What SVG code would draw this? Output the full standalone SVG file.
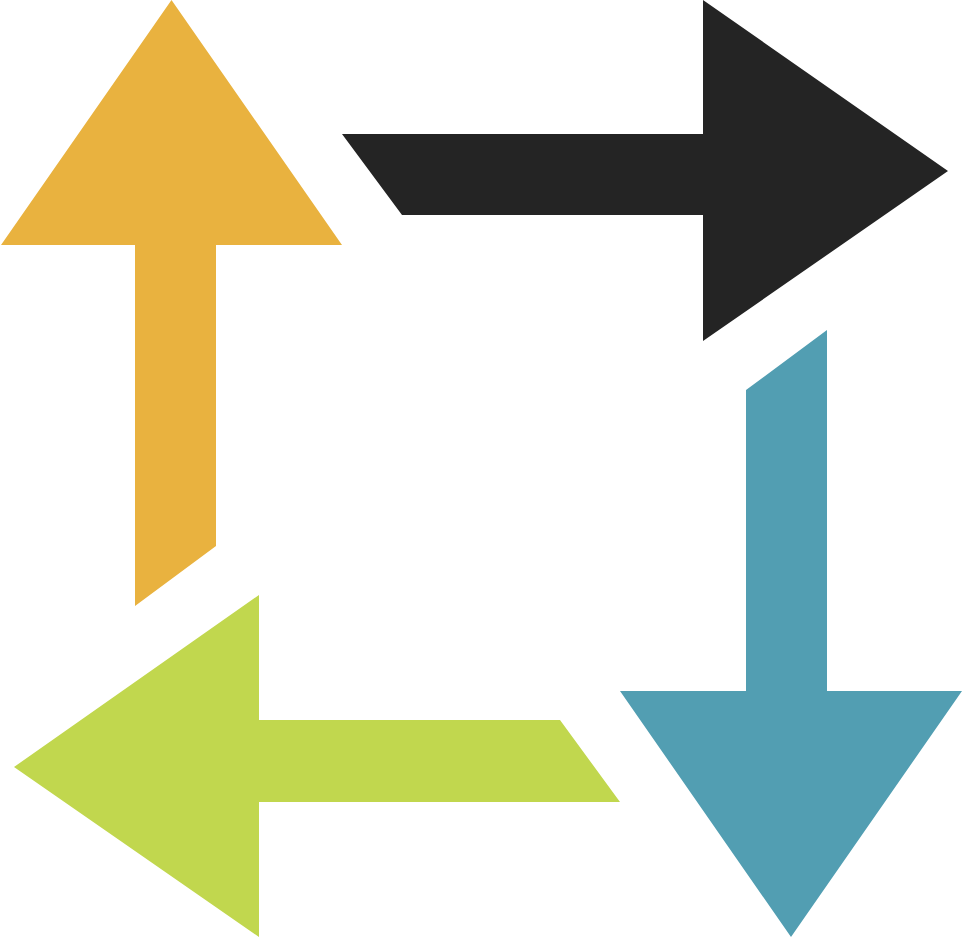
<svg xmlns="http://www.w3.org/2000/svg" width="962" height="937" viewBox="0 0 962 937">
<style>
.up{fill:#E9B23F}
.right{fill:#242424}
.down{fill:#529EB2}
.left{fill:#C1D74E}
</style>
<rect width="962" height="937" fill="#ffffff"/>
<g id="arrow-up"><polygon class="up" points="171.5,0 342,245 216,245 216,546 135,606 135,245 1,245"/></g>
<g id="arrow-right"><polygon class="right" points="342,134 703,134 703,0 948,171 703,341 703,215 402,215"/></g>
<g id="arrow-down"><polygon class="down" points="827,330 827,691 962,691 791,937 620,691 746,691 746,390"/></g>
<g id="arrow-left"><polygon class="left" points="620,802 259,802 259,937 14,767 259,595 259,720 560,720"/></g>
<g id="connectors"></g>
</svg>
